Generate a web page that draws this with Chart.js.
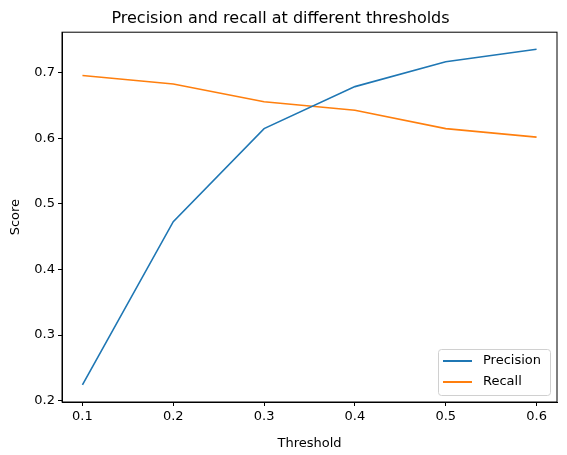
<!DOCTYPE html>
<html>
<head>
<meta charset="utf-8">
<script src="https://cdn.jsdelivr.net/npm/chart.js@4"></script>
<style>
  html, body { margin: 0; padding: 0; background: #fff; }
  #wrap { width: 567px; height: 455px; }
</style>
</head>
<body>
<div id="wrap"><canvas id="chart" width="567" height="455"></canvas></div>
<script>
const thresholds = [0.1, 0.2, 0.3, 0.4, 0.5, 0.6];
const precision = [0.224, 0.473, 0.615, 0.679, 0.717, 0.736];
const recall = [0.696, 0.683, 0.656, 0.643, 0.615, 0.602];
const yTicks = [0.2, 0.3, 0.4, 0.5, 0.6, 0.7];

const FONT = "'DejaVu Sans', sans-serif";
const tickFont = { family: FONT, size: 13 };
const tickGrid = { display: true, drawOnChartArea: false, drawTicks: true, tickLength: 4, color: '#000' };

// matplotlib-style legend drawn inside the plot, bottom right
const boxLegend = {
  id: 'boxLegend',
  afterDraw(chart) {
    const ctx = chart.ctx;
    const a = chart.chartArea;
    const w = 112, h = 46;
    const x = a.right - w - 7, y = a.bottom - h - 7;
    ctx.save();
    ctx.fillStyle = 'rgba(255,255,255,0.8)';
    ctx.strokeStyle = '#d0d0d0';
    ctx.lineWidth = 1;
    ctx.beginPath();
    ctx.roundRect(x + 0.5, y + 0.5, w, h, 3);
    ctx.fill();
    ctx.stroke();
    ctx.font = "13px " + FONT;
    ctx.textBaseline = 'middle';
    chart.data.datasets.forEach((ds, i) => {
      const ly = y + 12 + i * 21;
      ctx.strokeStyle = ds.borderColor;
      ctx.lineWidth = 2;
      ctx.beginPath();
      ctx.moveTo(x + 5, ly);
      ctx.lineTo(x + 34, ly);
      ctx.stroke();
      ctx.fillStyle = '#000';
      ctx.fillText(ds.label, x + 45, ly);
    });
    ctx.restore();
  }
};

new Chart(document.getElementById('chart'), {
  type: 'line',
  data: {
    datasets: [
      {
        label: 'Precision',
        data: thresholds.map((t, i) => ({ x: t, y: precision[i] })),
        borderColor: '#1f77b4',
        borderWidth: 1.6,
        pointRadius: 0,
        tension: 0
      },
      {
        label: 'Recall',
        data: thresholds.map((t, i) => ({ x: t, y: recall[i] })),
        borderColor: '#ff7f0e',
        borderWidth: 1.6,
        pointRadius: 0,
        tension: 0
      }
    ]
  },
  options: {
    responsive: false,
    animation: false,
    layout: { padding: { top: 0, right: 10, left: 4, bottom: 0 } },
    plugins: {
      legend: { display: false },
      tooltip: { enabled: false },
      title: {
        display: true,
        text: 'Precision and recall at different thresholds',
        color: '#000',
        font: { family: FONT, size: 16, weight: 'normal' },
        padding: { top: 9, bottom: 4 }
      }
    },
    scales: {
      x: {
        type: 'linear',
        min: 0.0775,
        max: 0.6225,
        afterBuildTicks: s => { s.ticks = thresholds.map(v => ({ value: v })); },
        afterFit: s => { s.height = 53; },
        grid: tickGrid,
        border: { color: '#000', width: 1 },
        ticks: { color: '#000', font: tickFont, maxRotation: 0, padding: 3, callback: v => v.toFixed(1) },
        title: { display: true, text: 'Threshold', color: '#000', font: tickFont, padding: { top: 0 } }
      },
      y: {
        min: 0.198,
        max: 0.762,
        afterBuildTicks: s => { s.ticks = yTicks.map(v => ({ value: v })); },
        afterFit: s => { s.width = 58; },
        grid: tickGrid,
        border: { color: '#000', width: 1 },
        ticks: { color: '#000', font: tickFont, padding: 3, callback: v => v.toFixed(1) },
        title: { display: true, text: 'Score', color: '#000', font: tickFont }
      }
    }
  },
  plugins: [boxLegend, {
    id: 'frame',
    afterDraw(chart) {
      const a = chart.chartArea, ctx = chart.ctx;
      ctx.save();
      ctx.strokeStyle = '#000';
      ctx.lineWidth = 1;
      ctx.strokeRect(a.left, a.top, a.right - a.left, a.bottom - a.top);
      ctx.restore();
    }
  }]
});
</script>
</body>
</html>
